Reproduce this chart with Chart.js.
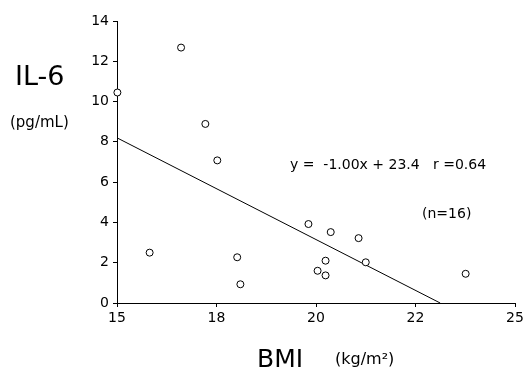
<!DOCTYPE html>
<html>
<head>
<meta charset="utf-8">
<script src="https://cdn.jsdelivr.net/npm/chart.js@4/dist/chart.umd.min.js"></script>
<style>
html,body{margin:0;padding:0;background:#fff;}
#wrap{position:relative;width:527px;height:371px;}
</style>
</head>
<body>
<div id="wrap"><canvas id="c" width="527" height="371"></canvas></div>
<script>
// ---- data (x in axis position units; axis labels below) ----
const bmiX = [15.01, 16.61, 17.22, 17.52, 15.82, 18.02, 18.10, 19.81, 20.37, 21.07, 20.24, 20.04, 20.24, 21.25, 23.76];
const il6Y = [10.45, 12.68, 8.89, 7.08, 2.50, 2.27, 0.93, 3.92, 3.52, 3.22, 2.10, 1.60, 1.37, 2.02, 1.45];
const fitX = [15, 23.12];
const fitY = [8.2, 0];
const xTickLabels = ["15", "18", "20", "22", "25"];
const yTicks = [0, 2, 4, 6, 8, 10, 12, 14];

const FONT = "'DejaVu Sans', sans-serif";

const labelPlugin = {
  id: 'labels',
  afterDraw(chart) {
    const ctx = chart.ctx;
    ctx.save();
    ctx.fillStyle = '#000';
    ctx.textBaseline = 'middle';
    ctx.textAlign = 'left';
    const items = [
      ['IL-6', 15, 78, 27],
      ['(pg/mL)', 10, 123, 15],
      ['BMI', 257, 360, 25],
      ['(kg/m\u00b2)', 335, 360, 16],
      ['y =  -1.00x + 23.4   r =0.64', 290, 165, 14],
      ['(n=16)', 422, 214, 14]
    ];
    for (const [t, x, y, s] of items) {
      ctx.font = s + 'px ' + FONT;
      ctx.fillText(t, x, y);
    }
    ctx.restore();
  }
};

new Chart(document.getElementById('c'), {
  type: 'scatter',
  data: {
    datasets: [
      {
        data: bmiX.map((x, i) => ({x, y: il6Y[i]})),
        pointRadius: 3.5,
        pointBorderWidth: 1,
        pointBorderColor: '#000',
        pointBackgroundColor: '#fff',
        showLine: false,
        clip: false
      },
      {
        type: 'line',
        data: fitX.map((x, i) => ({x, y: fitY[i]})),
        borderColor: '#000',
        borderWidth: 1,
        pointRadius: 0,
        fill: false
      }
    ]
  },
  options: {
    responsive: false,
    animation: false,
    layout: {padding: {left: 0, right: 12, top: 21, bottom: 0}},
    plugins: {legend: {display: false}, tooltip: {enabled: false}},
    scales: {
      x: {
        type: 'linear',
        min: 15, max: 25,
        afterFit(s) { s.height = 68; },
        border: {color: '#000', width: 1},
        grid: {display: true, drawOnChartArea: false, tickLength: 4, color: '#000'},
        afterBuildTicks(s) {
          s.ticks = xTickLabels.map((l, i) => ({value: 15 + i * 2.5}));
        },
        ticks: {
          color: '#000',
          font: {family: FONT, size: 14},
          padding: 3,
          maxRotation: 0,
          callback: (v, i) => xTickLabels[i]
        }
      },
      y: {
        min: 0, max: 14,
        afterFit(s) { s.width = 117; },
        afterBuildTicks(s) { s.ticks = yTicks.map(v => ({value: v})); },
        border: {color: '#000', width: 1},
        grid: {display: true, drawOnChartArea: false, tickLength: 4, color: '#000'},
        ticks: {
          color: '#000',
          font: {family: FONT, size: 14},
          padding: 4
        }
      }
    }
  },
  plugins: [labelPlugin]
});
</script>
</body>
</html>
